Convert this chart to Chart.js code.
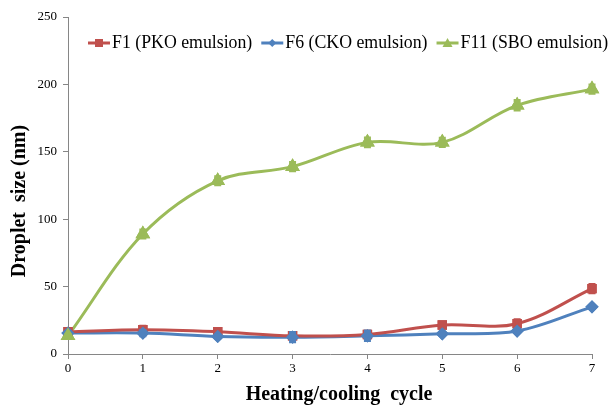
<!DOCTYPE html>
<html>
<head>
<meta charset="utf-8">
<script src="https://cdn.jsdelivr.net/npm/chart.js@4.4.0/dist/chart.umd.min.js"></script>
<style>
  html, body { margin: 0; padding: 0; background: #fff; }
  #wrap { width: 612px; height: 409px; }
</style>
</head>
<body>
<div id="wrap"><canvas id="dropletChart"></canvas></div>
<script>
var cycles = ['0', '1', '2', '3', '4', '5', '6', '7'];

var pkoSize = [16.5, 18, 16.5, 13.5, 14.5, 21.5, 22.5, 48.5];
var pkoErr = [1, 2.5, 1, 1, 1, 1, 3, 3];

var ckoSize = [15.5, 15.5, 13, 12.5, 13.5, 15, 17, 35];
var ckoErr = [1, 2, 1, 3.5, 3.5, 1, 1, 1];

var sboSize = [13.5, 89, 128.5, 139, 157, 157, 184.5, 196.5];
var sboErr = [1, 3, 3, 3, 3.2, 3, 3.5, 3];

var yTicks = [0, 50, 100, 150, 200, 250];

var xTitle = 'Heating/cooling  cycle';
var yTitle = 'Droplet  size (nm)';

var RED = '#C0504D', BLUE = '#4F81BD', GREEN = '#9BBB59', AXIS = '#868686';
var serif = "'Liberation Serif', 'Times New Roman', serif";

// error bars: stems under the markers, caps on top
var errorBars = {
    id: 'errorBars',
    afterDatasetsDraw: function (chart) {
        var ctx = chart.ctx;
        var yScale = chart.scales.y;
        ctx.save();
        ctx.strokeStyle = '#000';
        ctx.lineWidth = 1;
        chart.data.datasets.forEach(function (ds, i) {
            var meta = chart.getDatasetMeta(i);
            var ends = meta.data.map(function (pt, j) {
                var v = ds.data[j], e = ds.errors[j];
                return [pt.x, yScale.getPixelForValue(v + e), yScale.getPixelForValue(v - e)];
            });
            ends.forEach(function (b) {
                ctx.beginPath();
                ctx.moveTo(b[0], b[1]); ctx.lineTo(b[0], b[2]);
                ctx.stroke();
            });
            meta.data.forEach(function (pt) { pt.draw(ctx, chart.chartArea); });
            ends.forEach(function (b) {
                ctx.beginPath();
                ctx.moveTo(b[0] - 3.5, b[1]); ctx.lineTo(b[0] + 3.5, b[1]);
                ctx.moveTo(b[0] - 3.5, b[2]); ctx.lineTo(b[0] + 3.5, b[2]);
                ctx.stroke();
            });
        });
        ctx.restore();
    }
};

// legend (line + marker + text) and axis titles
var extras = {
    id: 'extras',
    afterDraw: function (chart) {
        var ctx = chart.ctx;
        var x = 88, y = 43;
        ctx.save();
        ctx.font = '17.8px ' + serif;
        ctx.textBaseline = 'middle';
        chart.data.datasets.forEach(function (ds) {
            ctx.strokeStyle = ds.borderColor;
            ctx.lineWidth = 3;
            ctx.beginPath();
            ctx.moveTo(x, y); ctx.lineTo(x + 22, y);
            ctx.stroke();
            ctx.fillStyle = ds.borderColor;
            var cx = x + 11;
            ctx.beginPath();
            if (ds.pointStyle === 'rect') {
                ctx.rect(cx - 4, y - 4, 8, 8);
            } else if (ds.pointStyle === 'rectRot') {
                ctx.moveTo(cx, y - 4); ctx.lineTo(cx + 4, y); ctx.lineTo(cx, y + 4); ctx.lineTo(cx - 4, y);
            } else {
                ctx.moveTo(cx, y - 5); ctx.lineTo(cx + 5, y + 4); ctx.lineTo(cx - 5, y + 4);
            }
            ctx.closePath();
            ctx.fill();
            ctx.fillStyle = '#000';
            ctx.fillText(ds.label, x + 24, y);
            x += 24 + ctx.measureText(ds.label).width + 9;
        });

        ctx.font = 'bold 20px ' + serif;
        ctx.textAlign = 'center';
        ctx.fillText(xTitle, 339, 395);
        ctx.translate(20, 201);
        ctx.rotate(-Math.PI / 2);
        ctx.fillText(yTitle, 0, 0);
        ctx.restore();
    }
};

var ctx = document.getElementById('dropletChart');
window.myChart = new Chart(ctx, {
    type: 'line',
    data: {
        labels: cycles,
        datasets: [{
            label: 'F1 (PKO emulsion)',
            data: pkoSize,
            errors: pkoErr,
            borderColor: RED,
            backgroundColor: RED,
            pointStyle: 'rect',
            pointRadius: 4.5,
            borderWidth: 3,
            tension: 0.35
        }, {
            label: 'F6 (CKO emulsion)',
            data: ckoSize,
            errors: ckoErr,
            borderColor: BLUE,
            backgroundColor: BLUE,
            pointStyle: 'rectRot',
            pointRadius: 4.5,
            borderWidth: 3,
            tension: 0.35
        }, {
            label: 'F11 (SBO emulsion)',
            data: sboSize,
            errors: sboErr,
            borderColor: GREEN,
            backgroundColor: GREEN,
            pointStyle: 'triangle',
            pointRadius: 5.5,
            borderWidth: 3,
            tension: 0.35
        }]
    },
    options: {
        responsive: true,
        maintainAspectRatio: false,
        animation: false,
        layout: { padding: { top: 17, right: 20, left: 0, bottom: 0 } },
        plugins: {
            legend: { display: false },
            tooltip: { enabled: false }
        },
        scales: {
            x: {
                offset: false,
                afterFit: function (scale) { scale.height = 55; },
                grid: { drawOnChartArea: false, drawTicks: true, tickLength: 5, color: AXIS },
                border: { display: true, color: AXIS, width: 1 },
                ticks: { color: '#000', padding: 2, font: { family: serif, size: 13 } }
            },
            y: {
                min: 0,
                max: 250,
                afterFit: function (scale) { scale.width = 68; },
                afterBuildTicks: function (scale) {
                    scale.ticks = yTicks.map(function (v) { return { value: v }; });
                },
                grid: { drawOnChartArea: false, drawTicks: true, tickLength: 5, color: AXIS },
                border: { display: true, color: AXIS, width: 1 },
                ticks: { color: '#000', padding: 6, font: { family: serif, size: 13 } }
            }
        }
    },
    plugins: [errorBars, extras]
});
</script>
</body>
</html>
